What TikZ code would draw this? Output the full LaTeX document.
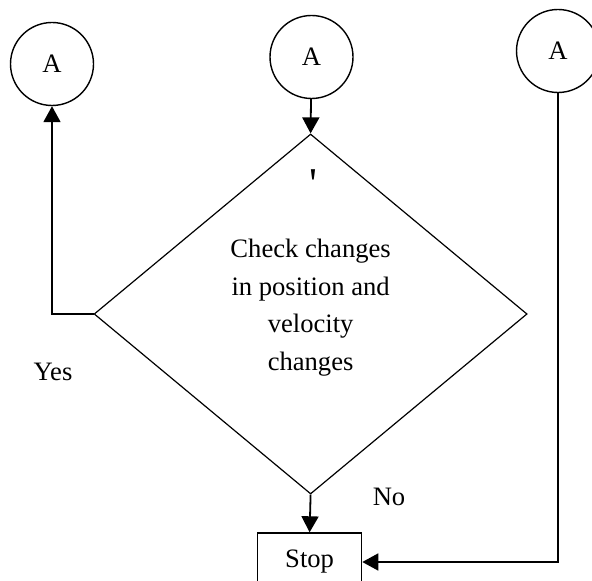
\documentclass[tikz,border=0pt]{standalone}
\usepackage{fontspec}
\setmainfont{Liberation Serif}
\newfontfamily\tickfont{Liberation Serif}
\usetikzlibrary{shapes.geometric,arrows.meta}

\begin{document}
\begin{tikzpicture}[x=0.5pt,y=-0.5pt,
    every node/.style={font=\fontsize{13.3}{18.85}\selectfont},
    conn/.style={-{Triangle[length=8pt,width=8.5pt]},line width=0.9pt},
    conncirc/.style={draw,circle,line width=0.7pt,minimum size=41.5pt,inner sep=0pt}]
    \useasboundingbox (0,0) rectangle (592,581);
    \node[conncirc] (aleft) at (52,64) {A};
    \node[conncirc] (amid) at (311.5,57) {A};
    \node[conncirc] (aright) at (558,51) {A};
    \node[draw,diamond,aspect=1.2,minimum width=216.5pt,minimum height=180pt,inner sep=0pt,line width=0.6pt] (check) at (310.6,314) {};
    \node[align=center] (checktxt) at (310.6,307.5) {Check changes\\in position and\\velocity\\changes};
    \node[font=\tickfont\fontsize{22}{22}\selectfont] (tick) at (313,184) {'};
    \node[draw,rectangle,minimum width=52pt,minimum height=29pt,line width=0.7pt] (stop) at (309.6,562) {Stop};
    \node (yes) at (53,372) {Yes};
    \node (no) at (389,497) {No};
    \draw[conn] (amid) -- (check.north);
    \draw[conn] (check.west) -| (aleft.south);
    \draw[conn] (aright.south) |- (stop.east);
    \draw[conn] (check.south) -- (stop.north);
\end{tikzpicture}
\end{document}
